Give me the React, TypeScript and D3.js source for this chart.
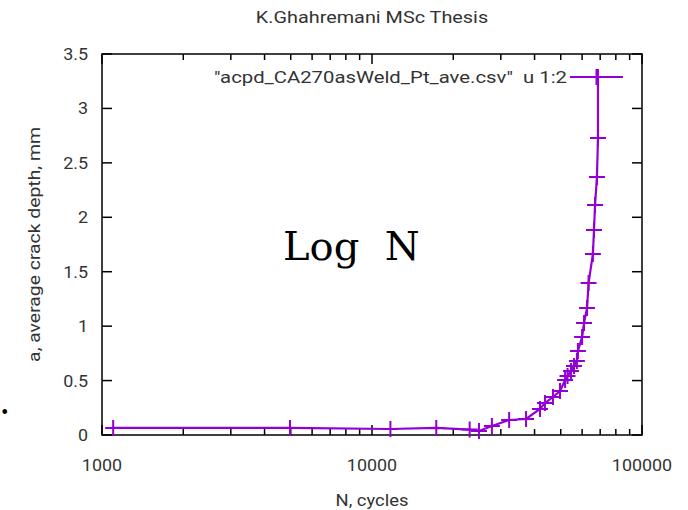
import React, { useEffect, useRef } from 'react';
import * as d3 from 'd3';

// N, cycles
const cycles = [
  1100, 4970, 11700, 17300, 23000, 24900, 27800, 32200, 37200, 41900, 43700,
  46800, 49700, 51900, 53000, 54600, 56000, 57400, 57900, 60000, 61000, 62600,
  63400, 65800, 66400, 67000, 68100, 68700, 68700
];
// a, average crack depth, mm
const depth = [
  0.065, 0.065, 0.055, 0.065, 0.05, 0.037, 0.083, 0.138, 0.147, 0.239, 0.294,
  0.349, 0.404, 0.505, 0.542, 0.588, 0.634, 0.68, 0.772, 0.9, 1.03, 1.167,
  1.396, 1.663, 1.883, 2.113, 2.37, 2.728, 3.289
];
const yTicks = [0, 0.5, 1, 1.5, 2, 2.5, 3, 3.5];
const xMajor = [1000, 10000, 100000];

const title = 'K.Ghahremani MSc Thesis';
const xTitle = 'N, cycles';
const yTitle = 'a, average crack depth, mm';
const legendLabel = '"acpd_CA270asWeld_Pt_ave.csv"  u 1:2';

function App() {
  const svgRef = useRef<SVGSVGElement>(null);

  useEffect(() => {
    document.body.style.margin = '0';
    const width = 688, height = 510;
    const m = { left: 102, right: 642, top: 54, bottom: 435 };
    const color = '#9400d3';
    const font = 'Roboto, sans-serif';

    const svg = d3.select(svgRef.current);
    svg.selectAll('*').remove();
    svg.attr('width', width).attr('height', height);

    const x = d3.scaleLog().domain([1000, 100000]).range([m.left, m.right]);
    const y = d3.scaleLinear().domain([0, 3.5]).range([m.bottom, m.top]);

    // lettering in the reference is stretched a bit sideways
    const label = (tx: number, ty: number, txt: string, anchor: string, size = 16, sx = 1.12, rot = 0) => {
      svg.append('g')
        .attr('transform', `translate(${tx},${ty}) rotate(${rot}) scale(${sx},1)`)
        .append('text')
        .attr('text-anchor', anchor)
        .attr('xml:space', 'preserve')
        .style('white-space', 'pre')
        .style('font-family', font)
        .style('font-size', `${size}px`)
        .style('fill', '#333')
        .text(txt);
    };

    // Frame
    svg.append('rect')
      .attr('x', m.left).attr('y', m.top)
      .attr('width', m.right - m.left).attr('height', m.bottom - m.top)
      .attr('fill', 'none').attr('stroke', '#000').attr('stroke-width', 1.5);

    // Y ticks (mirrored)
    yTicks.forEach(t => {
      const yy = y(t);
      svg.append('line').attr('x1', m.left).attr('x2', m.left + 10).attr('y1', yy).attr('y2', yy)
        .attr('stroke', '#000').attr('stroke-width', 1.5);
      svg.append('line').attr('x1', m.right).attr('x2', m.right - 10).attr('y1', yy).attr('y2', yy)
        .attr('stroke', '#000').attr('stroke-width', 1.5);
      label(m.left - 14, yy + 6, String(t), 'end');
    });

    // X ticks, major and minor (mirrored)
    const minor: number[] = [];
    [1000, 10000].forEach(d => d3.range(2, 10).forEach(k => minor.push(d * k)));
    const xt = [...xMajor.map(v => ({ v, len: 10 })), ...minor.map(v => ({ v, len: 6 }))];
    xt.forEach(({ v, len }) => {
      const xx = x(v);
      svg.append('line').attr('x1', xx).attr('x2', xx).attr('y1', m.bottom).attr('y2', m.bottom - len)
        .attr('stroke', '#000').attr('stroke-width', 1.5);
      svg.append('line').attr('x1', xx).attr('x2', xx).attr('y1', m.top).attr('y2', m.top + len)
        .attr('stroke', '#000').attr('stroke-width', 1.5);
    });
    xMajor.forEach(v => label(x(v), 471, String(v), 'middle'));

    // Titles
    label((m.left + m.right) / 2, 23, title, 'middle', 16, 1.24);
    label((m.left + m.right) / 2, 506, xTitle, 'middle', 16, 1.15);
    label(40, (m.top + m.bottom) / 2, yTitle, 'middle', 16, 1.21, -90);

    // Data line + cross markers
    const pts = cycles.map((c, i) => [x(c), y(depth[i])] as [number, number]);
    svg.append('path')
      .attr('d', d3.line()(pts))
      .attr('fill', 'none').attr('stroke', color).attr('stroke-width', 2.2);
    const cross = (cx: number, cy: number) => {
      svg.append('path')
        .attr('d', `M${cx - 8},${cy}H${cx + 8}M${cx},${cy - 8}V${cy + 8}`)
        .attr('stroke', color).attr('stroke-width', 2);
    };
    pts.forEach(([px, py]) => cross(px, py));

    // Legend
    const ly = 77;
    label(567, ly + 6, legendLabel, 'end', 16, 1.27);
    svg.append('line').attr('x1', 570).attr('x2', 623).attr('y1', ly).attr('y2', ly)
      .attr('stroke', color).attr('stroke-width', 2.2);
    cross(596.5, ly);

    // Overlaid annotation
    svg.append('text')
      .attr('x', 283).attr('y', 260)
      .attr('xml:space', 'preserve')
      .style('white-space', 'pre')
      .style('font-family', '"DejaVu Serif", serif')
      .style('font-size', '40px')
      .style('fill', '#000')
      .text('Log  N');
    svg.append('text')
      .attr('x', 0).attr('y', 418)
      .style('font-family', '"DejaVu Serif", serif')
      .style('font-size', '16px')
      .text('•');
  }, []);

  return <svg ref={svgRef} style={{ display: 'block' }} />;
}

export default App;
